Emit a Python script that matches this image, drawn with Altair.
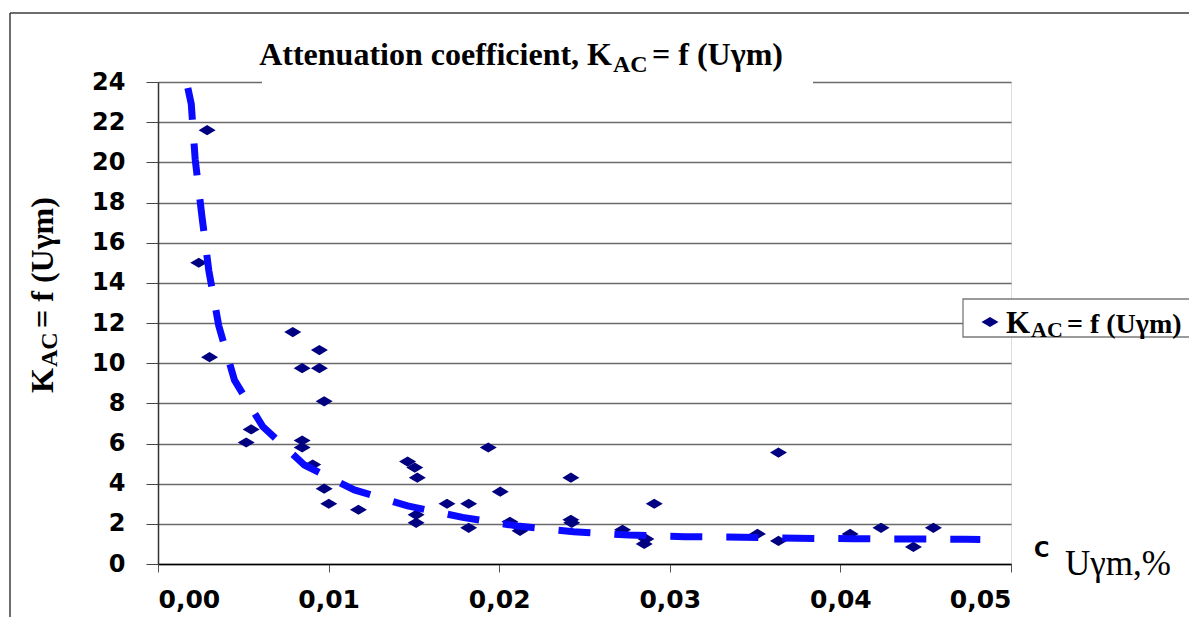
import altair as alt
import pandas as pd

# Measured data points (Uγm, %  ->  K_AC)
x_pts = [0.00288, 0.00239, 0.00302, 0.0079, 0.00946, 0.00845, 0.00946, 0.00974,
         0.00546, 0.00517, 0.00845, 0.00845, 0.00907, 0.00974, 0.01001, 0.01175,
         0.01463, 0.01505, 0.0152, 0.01513, 0.01513, 0.01694, 0.01821, 0.01821,
         0.01936, 0.02006, 0.02063, 0.02122, 0.0242, 0.0242, 0.02425, 0.02723,
         0.0286, 0.0285, 0.02909, 0.03514, 0.03637, 0.03637, 0.04057, 0.04238,
         0.04428, 0.04545]
y_pts = [21.6, 15.0, 10.3, 11.55, 10.65, 9.75, 9.75, 8.1,
         6.7, 6.05, 6.15, 5.8, 4.95, 3.75, 3.0, 2.7,
         5.1, 4.8, 4.3, 2.45, 2.05, 3.0, 3.0, 1.8,
         5.8, 3.6, 2.1, 1.65, 4.3, 2.2, 2.05, 1.7,
         1.25, 1.0, 3.0, 1.5, 5.55, 1.15, 1.5, 1.8,
         0.85, 1.8]

# Trend line
x_trend = [0.00175, 0.00195, 0.00218, 0.00257, 0.00298, 0.00356, 0.00448, 0.00614,
           0.00858, 0.01151, 0.01463, 0.01786, 0.02108, 0.02436, 0.02762, 0.0309,
           0.03422, 0.03748, 0.04074, 0.04402, 0.0473, 0.0482]
y_trend = [23.7, 22.9, 20.15, 17.35, 14.6, 11.87, 9.16, 6.84,
           4.93, 3.69, 2.89, 2.32, 1.89, 1.61, 1.44, 1.36,
           1.33, 1.28, 1.26, 1.245, 1.23, 1.22]

x_ticks = [0.0, 0.01, 0.02, 0.03, 0.04, 0.05]
y_ticks = [0, 2, 4, 6, 8, 10, 12, 14, 16, 18, 20, 22, 24]

W, H = 853, 482
DIAMOND = "M-1,0L0,-0.6L1,0L0,0.6Z"
NAVY = "#000080"

pts = pd.DataFrame({"x": x_pts, "y": y_pts})
trend = pd.DataFrame({"x": x_trend, "y": y_trend})
one = pd.DataFrame({"d": [0]})

xs = alt.Scale(domain=[0, 0.05], nice=False, zero=False)
ys = alt.Scale(domain=[0, 24], nice=False)

xaxis = alt.Axis(values=x_ticks, grid=False, title=None,
                 labelExpr="replace(format(datum.value, '.2f'), '.', ',')",
                 labelFont="DejaVu Sans", labelFontWeight="bold", labelFontSize=25,
                 labelColor="black", tickSize=8, tickColor="#555555",
                 domainColor="black", domainWidth=1.5, labelPadding=15)
yaxis = alt.Axis(values=y_ticks, grid=True, gridColor="#6a6a6a", gridWidth=1.3,
                 title=None, labelFont="DejaVu Sans", labelFontWeight="bold",
                 labelFontSize=24, labelColor="black", tickSize=12,
                 tickColor="#444444", domainColor="#333333", domainWidth=1.5,
                 labelPadding=21)

points = alt.Chart(pts).mark_point(
    shape=DIAMOND, filled=True, size=289, color=NAVY, opacity=1
).encode(
    x=alt.X("x:Q", scale=xs, axis=xaxis),
    y=alt.Y("y:Q", scale=ys, axis=yaxis),
)

line = alt.Chart(trend).mark_line(
    color="#0a0aff", strokeWidth=7, strokeDash=[32, 24], strokeCap="butt"
).encode(x=alt.X("x:Q", scale=xs), y=alt.Y("y:Q", scale=ys))


def txt(text, x, y, size, font="Liberation Serif", weight="bold", align="left", angle=0):
    return alt.Chart(one).mark_text(
        text=text, font=font, fontSize=size, fontWeight=weight, align=align,
        baseline="alphabetic", angle=angle, color="black"
    ).encode(x=alt.value(x), y=alt.value(y))


# outer frame
frame_top = alt.Chart(one).mark_rule(color="#3c3c3c", strokeWidth=1.5).encode(
    x=alt.value(-148), x2=alt.value(1040), y=alt.value(-69))
frame_left = alt.Chart(one).mark_rule(color="#3c3c3c", strokeWidth=1.5).encode(
    x=alt.value(-148), y=alt.value(-69), y2=alt.value(545))

# title with white background
title_bg = alt.Chart(one).mark_rect(color="white").encode(
    x=alt.value(104), x2=alt.value(655), y=alt.value(-50), y2=alt.value(4))
title1 = txt("Attenuation coefficient, K", 454, -17, 32, align="right")
title2 = txt("AC", 455, -10, 24)
title3 = txt("= f (Uγm)", 494, -17, 32)

# y-axis title (rotated)
yt1 = txt("K", -105, 311, 32, angle=270)
yt2 = txt("AC", -101, 285, 24, angle=270)
yt3 = txt("= f (Uγm)", -105, 246, 32, angle=270)

# x-axis title
xt1 = txt("C", 876, 475, 21, font="DejaVu Sans")
xt2 = txt("Uγm,%", 907, 493, 35, weight="normal")

# legend
leg_box = alt.Chart(one).mark_rect(fill="white", stroke="#7a7a7a", strokeWidth=1.3).encode(
    x=alt.value(805), x2=alt.value(1060), y=alt.value(217), y2=alt.value(255))
leg_sym = alt.Chart(one).mark_point(shape=DIAMOND, filled=True, size=289, color=NAVY,
                                    opacity=1).encode(x=alt.value(832), y=alt.value(240))
lg1 = txt("K", 848, 251, 31)
lg2 = txt("AC", 873, 255, 22)
lg3 = txt("= f (Uγm)", 909, 251, 28)

chart = alt.layer(
    points, line, frame_top, frame_left, title_bg, title1, title2, title3,
    yt1, yt2, yt3, xt1, xt2, leg_box, leg_sym, lg1, lg2, lg3
).properties(
    width=W, height=H,
    padding={"left": 150, "top": 74, "right": 178, "bottom": 53},
    autosize=alt.AutoSizeParams(type="none"),
).configure_view(stroke="#7a7a7a", strokeWidth=1.3).configure(background="white")

chart.save("out.html", embed_options={"renderer": "svg", "actions": False})
